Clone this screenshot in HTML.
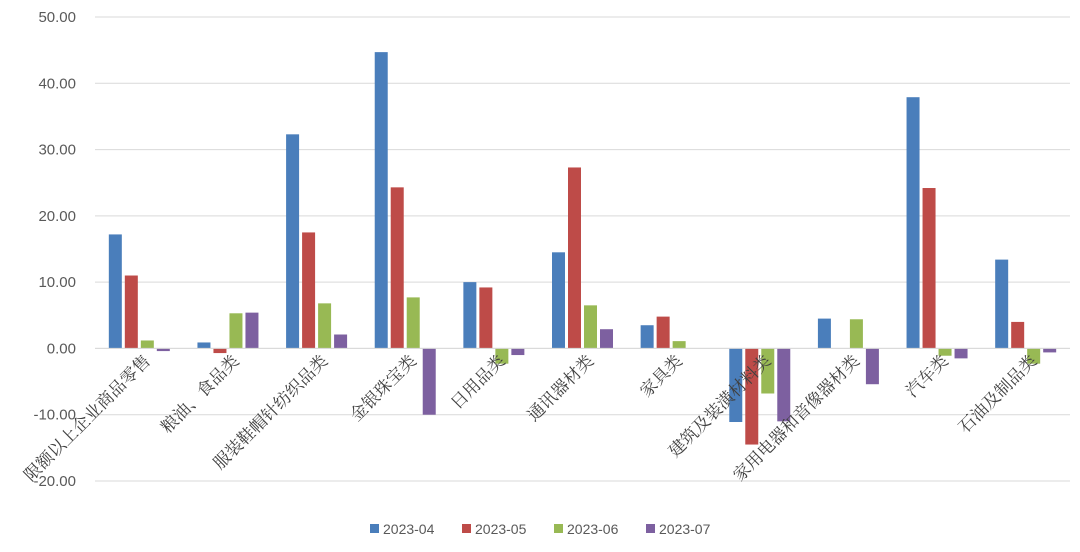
<!DOCTYPE html>
<html><head><meta charset="utf-8"><style>
html,body{margin:0;padding:0;background:#fff;}
svg{display:block;font-family:"Liberation Sans","Noto Sans CJK SC",sans-serif;}
</style></head><body>
<svg id="chart" width="1080" height="552" viewBox="0 0 1080 552" xmlns="http://www.w3.org/2000/svg"></svg>
<script>
const categories=["限额以上企业商品零售","粮油、食品类","服装鞋帽针纺织品类","金银珠宝类","日用品类","通讯器材类","家具类","建筑及装潢材料类","家用电器和音像器材类","汽车类","石油及制品类"];
const seriesNames=["2023-04","2023-05","2023-06","2023-07"];
const s202304=[17.2,0.9,32.3,44.7,10.0,14.5,3.5,-11.1,4.5,37.9,13.4];
const s202305=[11.0,-0.7,17.5,24.3,9.2,27.3,4.8,-14.5,0,24.2,4.0];
const s202306=[1.2,5.3,6.8,7.7,-2.3,6.5,1.1,-6.8,4.4,-1.1,-2.3];
const s202307=[-0.4,5.4,2.1,-10.0,-1.0,2.9,0,-11.0,-5.4,-1.5,-0.6];
const yTicks=[50,40,30,20,10,0,-10,-20];
const yTickLabels=["50.00","40.00","30.00","20.00","10.00","0.00","-10.00","-20.00"];
const series=[s202304,s202305,s202306,s202307];
const colors=["#4a7ebb","#be4b48","#98b954","#7d60a0"];
const svg=document.getElementById('chart');
const NS="http://www.w3.org/2000/svg";
const x0=95,x1=1070,yMin=-20,yMax=50,pTop=17,pBot=481;
const y=v=>pBot-(v-yMin)/(yMax-yMin)*(pBot-pTop);
const bw=(x1-x0)/categories.length;
function mk(t,a,p){const e=document.createElementNS(NS,t);for(const k in a)e.setAttribute(k,a[k]);(p||svg).appendChild(e);return e;}
const grid=mk('g',{});
yTicks.forEach((t,i)=>{
 const l=mk('line',{x1:x0,x2:x1,y1:y(t),y2:y(t),stroke:'#d9d9d9','stroke-width':1},grid);
 
 const tx=mk('text',{x:76,y:y(t)+5,'text-anchor':'end','font-size':15,fill:'#595959'});
 tx.textContent=yTickLabels[i];
 
});
const barW=13,gap=3;
categories.forEach((c,i)=>{
 const cx=x0+bw*i+bw/2;
 const start=cx-(4*barW+3*gap)/2;
 series.forEach((s,j)=>{
  const v=s[i];const yt=y(Math.max(v,0)),yb=y(Math.min(v,0));
  const r=mk('rect',{x:start+j*(barW+gap),y:yt,width:barW,height:Math.max(yb-yt,0),fill:colors[j]});
  
 });
 const tx=mk('text',{x:cx+12,y:362,'text-anchor':'end','font-size':17,fill:'#404040','font-family':'"Liberation Serif","Noto Serif CJK SC",serif',transform:`rotate(-45 ${cx+12} 362)`});
 tx.textContent=c;
 
});
const zl=mk('line',{x1:x0,x2:x1,y1:y(0),y2:y(0),stroke:'#d9d9d9','stroke-width':1});

const lg=mk('g',{});
const lx=[370,462,554,646];
seriesNames.forEach((n,j)=>{
 const g=mk('g',{},lg);
 mk('rect',{x:lx[j],y:524,width:9,height:9,fill:colors[j]},g);
 const t=mk('text',{x:lx[j]+13,y:534,'font-size':14,fill:'#595959'},g);t.textContent=n;
});
</script>
</body></html>
